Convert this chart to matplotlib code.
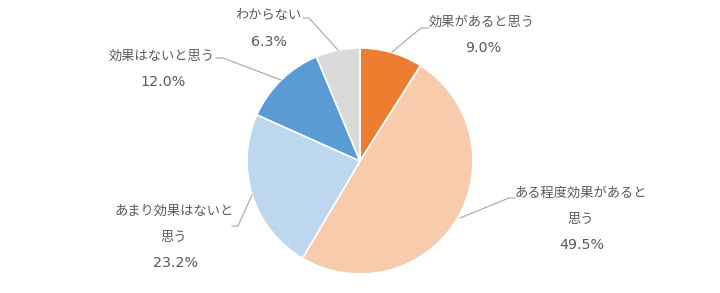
import matplotlib.pyplot as plt

plt.rcParams['font.family'] = ['Noto Sans CJK JP', 'DejaVu Sans']

# data
labels = ['効果があると思う', 'ある程度効果があると\n思う', 'あまり効果はないと\n思う', '効果はないと思う', 'わからない']
values = [9.0, 49.5, 23.2, 12.0, 6.3]
colors = ['#ED7D31', '#F8CBAD', '#BDD7EE', '#5B9BD5', '#D9D9D9']

W, H = 720, 293
fig = plt.figure(figsize=(W / 100, H / 100), dpi=100)
ax = fig.add_axes([0, 0, 1, 1])

cx, cy, r = 360, H - 161, 113
ax.pie(values, colors=colors, startangle=90, counterclock=False,
       center=(cx, cy), radius=r, frame=True,
       wedgeprops=dict(edgecolor='white', linewidth=1.2))
ax.set_xlim(0, W)
ax.set_ylim(0, H)
ax.set_aspect('equal')
ax.axis('off')

# label placement (image pixel coords, y from top): text center x, first line y,
# leader line points
layout = [
    (482, 22, [(392, 52), (421, 28), (428, 28)]),
    (581, 193, [(460, 218), (509, 198), (515, 198)]),
    (174, 211, [(252, 195), (238, 226), (232, 226)]),
    (162, 56, [(281, 80), (223, 58), (216, 58)]),
    (268, 16, [(338, 50), (309, 18), (303, 18)]),
]

txt_color = '#595959'
for lab, val, (tx, ty, pts) in zip(labels, values, layout):
    lines = lab.split('\n')
    for i, line in enumerate(lines):
        ax.text(tx, H - (ty + 26 * i), line, ha='center', va='center',
                fontsize=9.5, color=txt_color)
    ax.text(tx + 1, H - (ty + 26 * len(lines)), f'{val:.1f}%', ha='center',
            va='center', fontsize=10.3, color=txt_color, family='DejaVu Sans')
    xs = [p[0] for p in pts]
    ys = [H - p[1] for p in pts]
    ax.plot(xs, ys, color='#A6A6A6', linewidth=0.8)

fig.savefig('out.png', dpi=100, facecolor='white')
